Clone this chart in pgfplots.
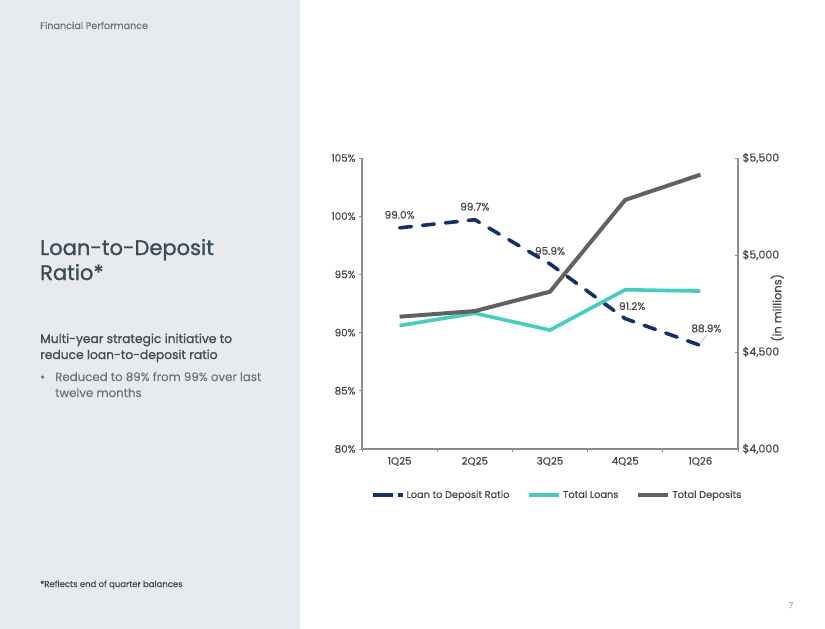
\documentclass[border=0pt]{standalone}
\usepackage{fontspec}
\setmainfont{Poppins}[FakeBold=0.3]
\newfontfamily\medfont{Poppins}[FakeBold=1.2]
\usepackage{pgfplots}
\pgfplotsset{compat=1.18}

\definecolor{panel}{HTML}{E8EBEE}
\definecolor{ratio}{HTML}{14306B}
\definecolor{loans}{HTML}{45CDBE}
\definecolor{deposits}{HTML}{616161}
\definecolor{axisgray}{HTML}{8C8C8C}
\definecolor{ticktext}{HTML}{454545}
\definecolor{titlecol}{HTML}{3B4C58}
\definecolor{subcol}{HTML}{474C52}
\definecolor{bulletcol}{HTML}{6E7378}

\pgfplotsset{
  ratiostyle/.style={ratio, line width=3.6pt, dash pattern=on 12pt off 11pt, line cap=round},
  loanstyle/.style={loans, line width=3.6pt},
  depstyle/.style={deposits, line width=4pt},
}

\begin{document}
\begin{tikzpicture}
  % page background and side panel
  \fill[white] (0pt,0pt) rectangle (825pt,-629pt);
  \fill[panel] (0pt,0pt) rectangle (300pt,-629pt);

  % side panel text
  \node[anchor=base west, inner sep=0, text=bulletcol, font=\fontsize{9.6}{11}\selectfont] at (40pt,-29pt) {Financial Performance};
  \node[anchor=base west, inner sep=0, text=titlecol, font=\medfont\fontsize{21}{25}\selectfont] at (40pt,-255pt) {Loan-to-Deposit};
  \node[anchor=base west, inner sep=0, text=titlecol, font=\medfont\fontsize{21}{25}\selectfont] at (40pt,-280pt) {Ratio*};
  \node[anchor=base west, inner sep=0, text=subcol, font=\medfont\fontsize{12.3}{14}\selectfont] at (40pt,-343pt) {Multi-year strategic initiative to};
  \node[anchor=base west, inner sep=0, text=subcol, font=\medfont\fontsize{12.3}{14}\selectfont] at (40pt,-359pt) {reduce loan-to-deposit ratio};
  \node[anchor=base west, inner sep=0, text=bulletcol, font=\fontsize{11.8}{14}\selectfont] at (40pt,-381pt) {•};
  \node[anchor=base west, inner sep=0, text=bulletcol, font=\fontsize{11.8}{14}\selectfont] at (55pt,-381pt) {Reduced to 89\% from 99\% over last};
  \node[anchor=base west, inner sep=0, text=bulletcol, font=\fontsize{11.8}{14}\selectfont] at (55pt,-397pt) {twelve months};
  \node[anchor=base west, inner sep=0, text=ticktext, font=\fontsize{8.5}{10}\selectfont] at (40pt,-587pt) {*Reflects end of quarter balances};
  \node[anchor=base, inner sep=0, text=axisgray!70, font=\fontsize{8}{9}\selectfont] at (791pt,-608pt) {7};

  % loan-to-deposit ratio on the left axis
  \begin{axis}[
    at={(362pt,-449pt)}, anchor=south west,
    scale only axis, width=376pt, height=291pt,
    xmin=-0.5, xmax=4.5, ymin=80, ymax=105,
    axis x line*=bottom, axis y line*=left,
    axis line style={axisgray, line width=1.2pt},
    xtick={0,1,2,3,4},
    xticklabels={1Q25,2Q25,3Q25,4Q25,1Q26},
    minor xtick={-0.5,0.5,1.5,2.5,3.5,4.5},
    major x tick style={draw=none},
    minor tick style={axisgray, line width=0.8pt},
    minor tick length=3pt,
    ytick={80,85,90,95,100,105},
    yticklabel={\pgfmathprintnumber{\tick}\%},
    ytick style={axisgray, line width=0.8pt},
    major tick length=3pt,
    tick align=outside,
    ticklabel style={text=ticktext, font=\fontsize{10.3}{12}\selectfont},
    /pgf/number format/assume math mode=true,
    xticklabel style={yshift=-1.5pt},
    clip=false,
    nodes near coords={\pgfmathprintnumber[fixed, fixed zerofill, precision=1]{\pgfplotspointmeta}\%},
    every node near coord/.style={anchor=center, yshift=13pt, text=ticktext, font=\fontsize{10.5}{12}\selectfont},
  ]
    \addplot[ratiostyle,
      coordinate style/.condition={\coordindex==3}{xshift=7pt, yshift=-0.5pt},
      coordinate style/.condition={\coordindex==4}{xshift=6pt, yshift=4pt},
    ] coordinates {(0,99.0) (1,99.7) (2,95.9) (3,91.2) (4,88.9)};
    % leader line for the last label
    \draw[black!30, line width=0.6pt] ([xshift=0pt,yshift=2.5pt]axis cs:4,88.9) -- ([xshift=6pt,yshift=10pt]axis cs:4,88.9);
  \end{axis}

  % loan and deposit balances on the right axis
  \begin{axis}[
    at={(362pt,-449pt)}, anchor=south west,
    scale only axis, width=376pt, height=291pt,
    xmin=-0.5, xmax=4.5, ymin=4000, ymax=5500,
    axis x line=none, axis y line*=right,
    axis line style={axisgray, line width=1.2pt},
    ytick={4000,4500,5000,5500},
    yticklabel={\$\pgfmathprintnumber{\tick}},
    /pgf/number format/.cd, 1000 sep={,}, assume math mode=true, /pgfplots/.cd,
    ytick style={axisgray, line width=0.8pt},
    major tick length=3pt,
    tick align=inside,
    ticklabel style={text=ticktext, font=\fontsize{11}{13}\selectfont},
    yticklabel style={xshift=1pt},
    ylabel={(in millions)},
    ylabel style={at={(axis description cs:1.104,0.485)}, anchor=center, text=ticktext, font=\fontsize{11.5}{13}\selectfont},
    legend columns=3,
    legend style={at={(axis description cs:0.519,-0.158)}, anchor=center, draw=none, fill=none,
      font=\fontsize{9.8}{12}\selectfont, text=ticktext,
      /tikz/every even column/.append style={column sep=16pt},
      /tikz/every odd column/.append style={inner xsep=0pt}},
    legend image code/.code={\draw[#1] (0pt,0pt) -- (30pt,0pt);},
    clip=false,
  ]
    \addlegendimage{ratiostyle, dash pattern=on 20pt off 5pt on 5pt off 100pt, line cap=butt}
    \addlegendentry{Loan to Deposit Ratio}
    \addplot[loanstyle] coordinates {(0,4636) (1,4700) (2,4613) (3,4821) (4,4814)};
    \addlegendentry{Total Loans}
    \addplot[depstyle] coordinates {(0,4682) (1,4711) (2,4811) (3,5284) (4,5414)};
    \addlegendentry{Total Deposits}
  \end{axis}
\end{tikzpicture}
\end{document}
